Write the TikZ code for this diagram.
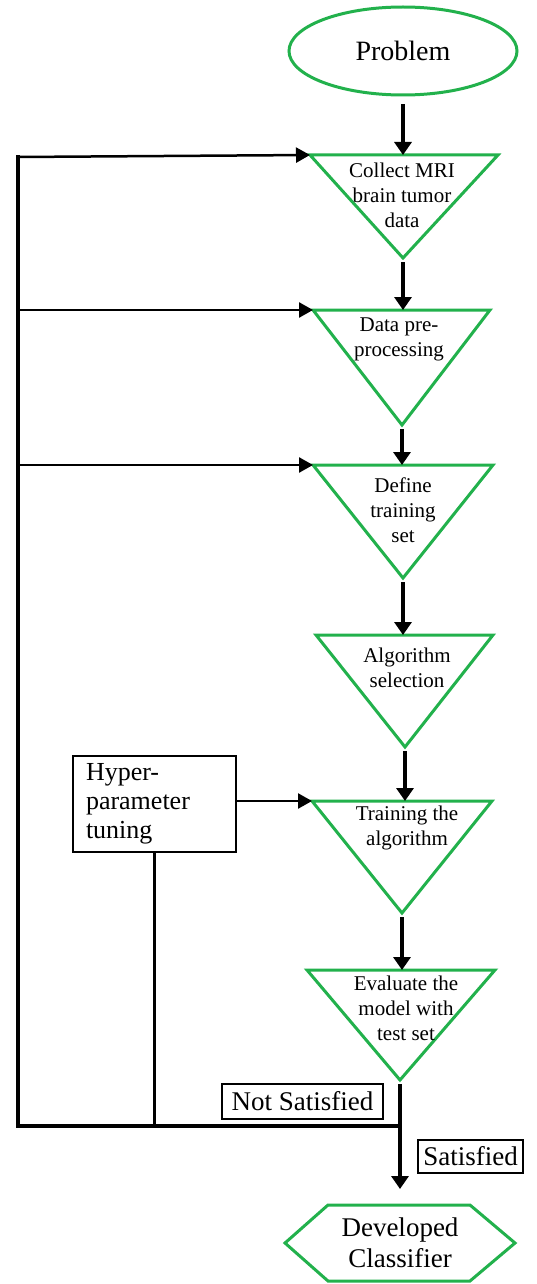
\documentclass[tikz,border=0pt]{standalone}
\usepackage{fontspec}
\setmainfont{Liberation Serif}
\usetikzlibrary{arrows.meta,shapes.geometric}
\definecolor{stagegreen}{RGB}{34,177,76}

\begin{document}
\begin{tikzpicture}[x=1pt,y=-1pt,
  flow/.style={line width=4pt,-{Triangle[length=13pt,width=17pt]},shorten <=4pt},
  feed/.style={line width=2.5pt,-{Triangle[length=14pt,width=15pt]}},
  back/.style={line width=4.5pt,line cap=rect},
  stage/.style={draw=stagegreen,line width=3pt},
  stagetext/.style={align=center,inner sep=0pt,font=\fontsize{21}{25}\selectfont},
  notebox/.style={draw,line width=1.2pt,inner sep=0pt,font=\fontsize{27}{29}\selectfont}]
  \useasboundingbox (0,0) rectangle (536,1284);
  %
  % Start
  \node[stage,ellipse,minimum width=228pt,minimum height=88pt,inner sep=0pt,
    font=\fontsize{28}{30}\selectfont] (problem) at (403,51) {Problem};
  %
  % Stages
  \draw[stage] (310,155) coordinate (collect-l) -- (498,155)
    -- (403,258) coordinate (collect-b) -- cycle;
  \node[stagetext] (collect) at (402,195) {Collect MRI\\brain tumor\\data};
  \draw[stage] (313,310) coordinate (data-l) -- (490,310)
    -- (402,425) coordinate (data-b) -- cycle;
  \node[stagetext] (data) at (399,339) {Data pre-\\processing};
  \draw[stage] (313,465) coordinate (define-l) -- (493,465)
    -- (403,578) coordinate (define-b) -- cycle;
  \node[stagetext] (define) at (403,510) {Define\\training\\set};
  \draw[stage] (316,635) coordinate (algo-l) -- (493,635)
    -- (405,747) coordinate (algo-b) -- cycle;
  \node[stagetext] (algo) at (407,668) {Algorithm\\selection};
  \draw[stage] (312,801) coordinate (training-l) -- (492,801)
    -- (402,913) coordinate (training-b) -- cycle;
  \node[stagetext] (training) at (407,828) {Training the\\algorithm};
  \draw[stage] (307,970) coordinate (evaluate-l) -- (495,970)
    -- (400,1080) coordinate (evaluate-b) -- cycle;
  \node[stagetext] (evaluate) at (406,1008) {Evaluate the\\model with\\test set};
  %
  % End
  \draw[stage] (328,1205) coordinate (classifier-t) -- (470,1205) -- (515,1243)
    -- (470,1281) -- (328,1281) -- (285,1243) -- cycle;
  \node[align=center,inner sep=0pt,font=\fontsize{27}{31}\selectfont]
    (classifier) at (400,1243) {Developed\\Classifier};
  %
  % Main flow
  \draw[flow,shorten <=8pt] (problem.south) -- (problem.south |- collect-l);
  \draw[flow] (collect-b) -- (collect-b |- data-l);
  \draw[flow] (data-b) -- (data-b |- define-l);
  \draw[flow] (define-b) -- (define-b |- algo-l);
  \draw[flow] (algo-b) -- (algo-b |- training-l);
  \draw[flow] (training-b) -- (training-b |- evaluate-l);
  \draw[flow,shorten >=16pt] (evaluate-b) -- (evaluate-b |- classifier-t);
  %
  % Feedback loop
  \coordinate (split) at (400,1126);
  \coordinate (loop-top) at (18,157);
  \draw[back] (split) -- (loop-top |- split) -- (loop-top);
  \draw[feed] (loop-top) -- (collect-l);
  \draw[feed] (loop-top |- data-l) -- (data-l);
  \draw[feed] (loop-top |- define-l) -- (define-l);
  %
  % Tuning
  \node[draw,line width=1.2pt,inner xsep=13pt,inner ysep=0pt,text width=137pt,
    minimum height=96pt,align=left,font=\fontsize{26}{29}\selectfont]
    (hyper) at (154.5,804) {Hyper-\\parameter\\tuning};
  \draw[feed] (hyper.east |- training-l) -- (training-l);
  \draw[line width=3pt] (hyper.south) -- (hyper.south |- split);
  %
  % Decisions
  \node[notebox,minimum width=161pt,minimum height=35pt] (notsat) at (302.5,1101.5) {Not Satisfied};
  \node[notebox,minimum width=105pt,minimum height=33pt] (sat) at (470.5,1156.5) {Satisfied};
  %
\end{tikzpicture}
\end{document}
